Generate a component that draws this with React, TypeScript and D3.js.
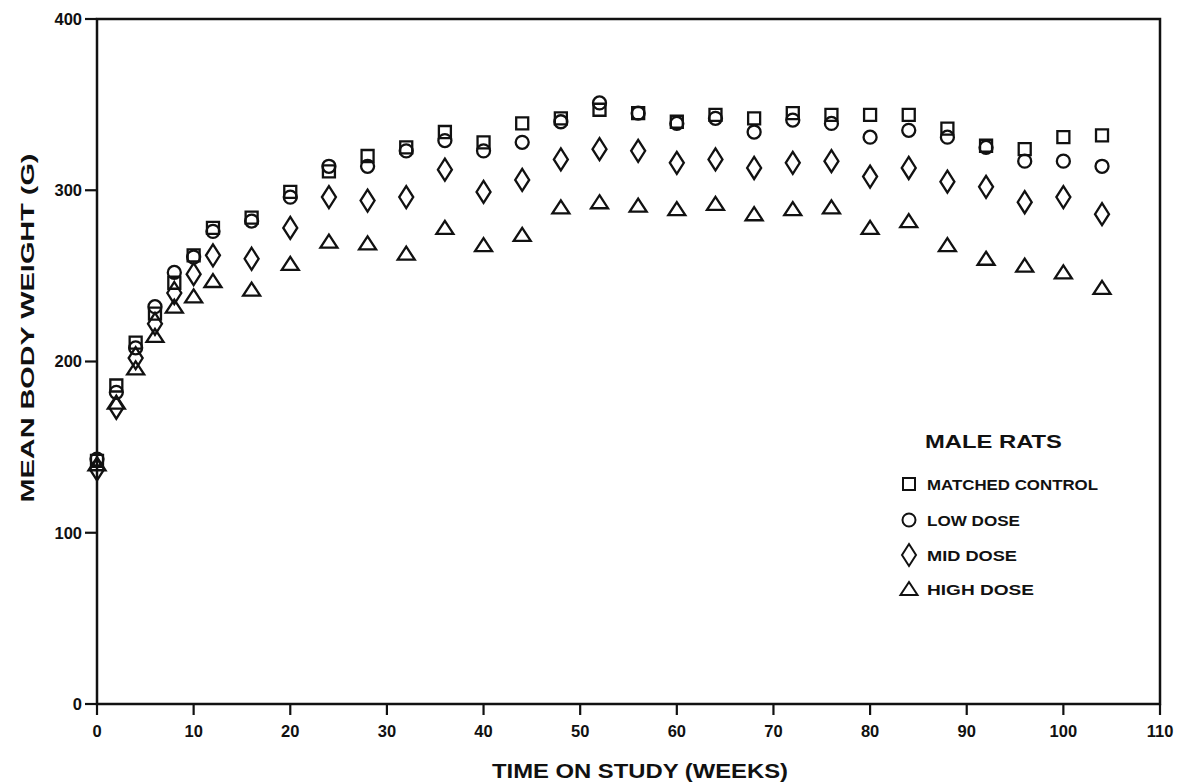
import { scaleLinear } from 'd3';

const weeks = [0, 2, 4, 6, 8, 10, 12, 16, 20, 24, 28, 32, 36, 40, 44, 48, 52, 56, 60, 64, 68, 72, 76, 80, 84, 88, 92, 96, 100, 104];
const control = [142, 186, 211, 228, 246, 262, 278, 284, 299, 311, 320, 325, 334, 328, 339, 342, 347, 345, 340, 344, 342, 345, 344, 344, 344, 336, 326, 324, 331, 332];
const lowDose = [143, 182, 208, 232, 252, 261, 276, 282, 296, 314, 314, 323, 329, 323, 328, 340, 351, 345, 339, 342, 334, 341, 339, 331, 335, 331, 325, 317, 317, 314];
const midDose = [137, 173, 202, 222, 240, 251, 262, 260, 278, 296, 294, 296, 312, 299, 306, 318, 324, 323, 316, 318, 313, 316, 317, 308, 313, 305, 302, 293, 296, 286];
const highDose = [140, 176, 196, 215, 232, 238, 247, 242, 257, 270, 269, 263, 278, 268, 274, 290, 293, 291, 289, 292, 286, 289, 290, 278, 282, 268, 260, 256, 252, 243];

const xTicks = [0, 10, 20, 30, 40, 50, 60, 70, 80, 90, 100, 110];
const yTicks = [0, 100, 200, 300, 400];

const seriesNames = ['MATCHED CONTROL', 'LOW DOSE', 'MID DOSE', 'HIGH DOSE'];
const seriesShapes = ['square', 'circle', 'diamond', 'triangle'];
// widths of the legend labels as printed (the original face is wider than Arial)
const legendWidths = [171, 93, 90, 107];

const font = '"Liberation Sans", Arial, Helvetica, sans-serif';

function markerPath(shape: string) {
  switch (shape) {
    case 'square':
      return 'M-6,-6H6V6H-6Z';
    case 'circle':
      return 'M-6.5,0A6.5,6.5 0 1,0 6.5,0A6.5,6.5 0 1,0 -6.5,0Z';
    case 'diamond':
      return 'M0,-11L7,0L0,11L-7,0Z';
    default:
      return 'M0,-7L8.5,6H-8.5Z';
  }
}

export default function App() {
  const width = 1178;
  const height = 784;

  const x = scaleLinear().domain([0, 110]).range([97, 1160]);
  const y = scaleLinear().domain([0, 400]).range([704, 19]);

  const series = [control, lowDose, midDose, highDose];

  return (
    <svg
      width={width}
      height={height}
      style={{ position: 'absolute', left: 0, top: 0, background: '#fff' }}
      fontFamily={font}
      fontWeight="bold"
    >
      <rect width={width} height={height} fill="#fff" />

      {/* frame */}
      <path
        d={`M${x(0)},${y(0)}V${y(400)}H${x(110)}V${y(0)}Z`}
        fill="none"
        stroke="#111"
        strokeWidth={2.5}
      />

      {/* y axis */}
      {yTicks.map((t) => (
        <g key={t} transform={`translate(0,${y(t)})`}>
          <line x1={x(0) - 12} x2={x(0)} stroke="#111" strokeWidth={2.2} />
          <text x={x(0) - 15} dy="0.36em" textAnchor="end" fontSize={16.5} fill="#111">
            {t}
          </text>
        </g>
      ))}

      {/* x axis */}
      {xTicks.map((t) => (
        <g key={t} transform={`translate(${x(t)},0)`}>
          <line y1={y(0)} y2={y(0) + 11} stroke="#111" strokeWidth={2.2} />
          <text y={y(0) + 33} textAnchor="middle" fontSize={16.5} fill="#111">
            {t}
          </text>
        </g>
      ))}

      <text
        x={640}
        y={778}
        textAnchor="middle"
        fontSize={20}
        textLength={296}
        lengthAdjust="spacingAndGlyphs"
        fill="#111"
      >
        TIME ON STUDY (WEEKS)
      </text>
      <text
        transform="translate(34,328) rotate(-90)"
        textAnchor="middle"
        fontSize={19}
        textLength={349}
        lengthAdjust="spacingAndGlyphs"
        fill="#111"
      >
        MEAN BODY WEIGHT (G)
      </text>

      {/* points */}
      {series.map((vals, si) => (
        <g key={si}>
          {vals.map((v, i) => (
            <path
              key={i}
              d={markerPath(seriesShapes[si])}
              transform={`translate(${x(weeks[i])},${y(v)})`}
              fill="none"
              stroke="#111"
              strokeWidth={2.3}
            />
          ))}
        </g>
      ))}

      {/* legend */}
      <text
        x={925}
        y={448}
        fontSize={18.5}
        textLength={137}
        lengthAdjust="spacingAndGlyphs"
        fill="#111"
      >
        MALE RATS
      </text>
      {seriesNames.map((name, i) => {
        const cy = [484, 520, 555, 589][i];
        return (
          <g key={name}>
            <path
              d={markerPath(seriesShapes[i])}
              transform={`translate(909,${cy})`}
              fill="none"
              stroke="#111"
              strokeWidth={2}
            />
            <text
              x={927}
              y={cy + 6}
              fontSize={15.5}
              textLength={legendWidths[i]}
              lengthAdjust="spacingAndGlyphs"
              fill="#111"
            >
              {name}
            </text>
          </g>
        );
      })}
    </svg>
  );
}
